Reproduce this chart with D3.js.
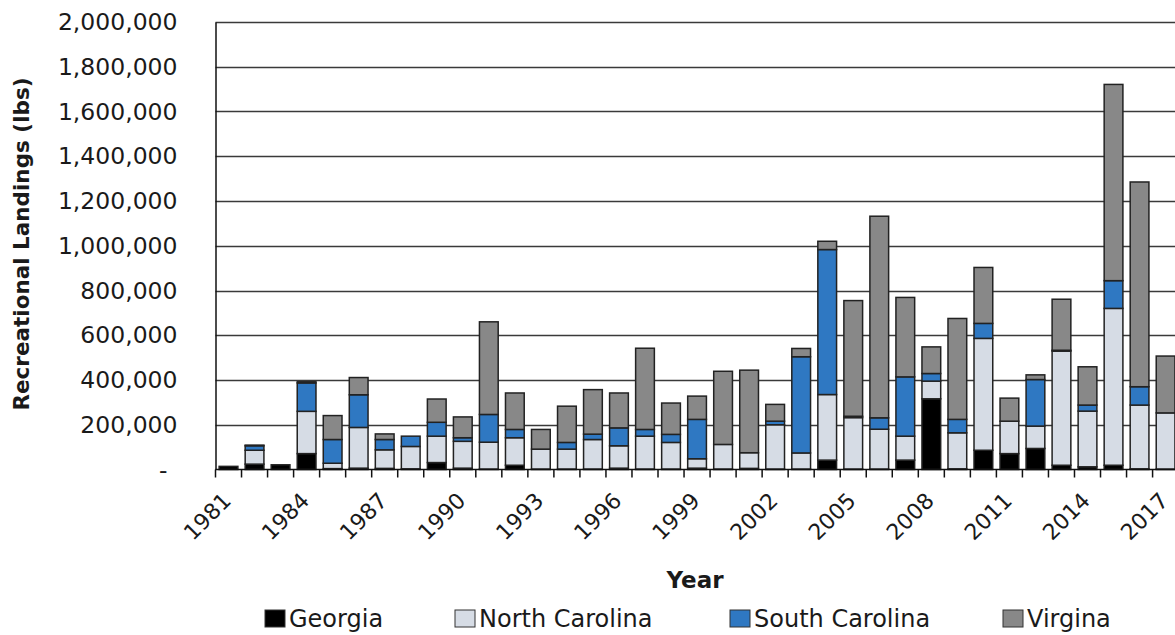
<!DOCTYPE html>
<html>
<head>
<meta charset="utf-8">
<script src="https://cdn.jsdelivr.net/npm/d3@7"></script>
<style>
  html, body { margin: 0; padding: 0; background: #fff; }
  svg { display: block; }
  text { font-family: "DejaVu Sans", sans-serif; fill: #1a1a1a; }
</style>
</head>
<body>
<svg id="chart" width="1175" height="635"></svg>
<script>
// ---- Data (lbs) ----
const years = d3.range(1981, 2018);
const seriesNames = ["Georgia", "North Carolina", "South Carolina", "Virgina"];
const georgia = [14000, 24000, 21000, 71000, 4000, 6000, 5000, 3000, 31000, 6000,
  2000, 19000, 2000, 2000, 2000, 6000, 2000, 2000, 6000, 2000,
  5000, 2000, 2000, 42000, 2000, 2000, 42000, 316000, 3000, 86000,
  71000, 94000, 19000, 12000, 19000, 3000, 2000];
const northCarolina = [0, 62000, 0, 189000, 24000, 182000, 83000, 100000, 118000, 120000,
  120000, 123000, 89000, 89000, 132000, 100000, 147000, 119000, 42000, 110000,
  70000, 198000, 72000, 293000, 230000, 178000, 107000, 79000, 161000, 500000,
  145000, 100000, 510000, 249000, 701000, 285000, 251000];
const southCarolina = [0, 20000, 0, 127000, 106000, 146000, 46000, 46000, 62000, 16000,
  124000, 37000, 0, 30000, 24000, 80000, 30000, 36000, 176000, 0,
  0, 16000, 430000, 648000, 6000, 51000, 265000, 34000, 60000, 67000,
  0, 208000, 4000, 27000, 124000, 82000, 0];
const virginia = [0, 3000, 0, 5000, 107000, 77000, 25000, 0, 104000, 93000,
  414000, 163000, 88000, 162000, 199000, 156000, 363000, 140000, 104000, 327000,
  369000, 75000, 37000, 37000, 517000, 901000, 355000, 119000, 451000, 250000,
  103000, 21000, 228000, 171000, 877000, 915000, 254000];
const yTicks = d3.range(0, 2000001, 200000);
const xLabelYears = d3.range(1981, 2018, 3);
const colors = ["#000000", "#d6dce5", "#2f78c2", "#888888"];

// ---- Build table ----
const table = years.map((yr, i) => ({
  year: yr,
  "Georgia": georgia[i],
  "North Carolina": northCarolina[i],
  "South Carolina": southCarolina[i],
  "Virgina": virginia[i]
}));
const stacked = d3.stack().keys(seriesNames)(table);

// ---- Layout ----
const svg = d3.select("#chart");
const plotLeft = 215.5, plotBottom = 469.5, plotTop = 22;
const stepW = 26.03;
const pad = 0.28;
const x = d3.scaleBand()
  .domain(years)
  .range([plotLeft, plotLeft + stepW * years.length])
  .paddingInner(pad)
  .paddingOuter(pad / 2);
const y = d3.scaleLinear().domain([0, 2000000]).range([plotBottom, plotTop]);
const color = d3.scaleOrdinal().domain(seriesNames).range(colors);

svg.append("rect").attr("width", 1175).attr("height", 635).attr("fill", "#fff");

// gridlines
svg.append("g")
  .selectAll("line")
  .data(yTicks.filter(d => d > 0))
  .join("line")
  .attr("x1", plotLeft).attr("x2", 1175)
  .attr("y1", d => Math.round(y(d)) + 0.5)
  .attr("y2", d => Math.round(y(d)) + 0.5)
  .attr("stroke", "#3a3a3a")
  .attr("stroke-width", 1.4);

// bars
svg.append("g")
  .selectAll("g")
  .data(stacked)
  .join("g")
  .attr("fill", d => color(d.key))
  .selectAll("rect")
  .data(d => d.filter(s => s[1] - s[0] > 0))
  .join("rect")
  .attr("x", d => x(d.data.year))
  .attr("width", x.bandwidth())
  .attr("y", d => y(d[1]))
  .attr("height", d => y(d[0]) - y(d[1]))
  .attr("stroke", "#222")
  .attr("stroke-width", 1.5);

// y axis
const yAxis = svg.append("g")
  .attr("transform", `translate(${plotLeft},0)`)
  .call(d3.axisLeft(y).tickValues(yTicks)
    .tickFormat(d => d === 0 ? "-" : d3.format(",")(d))
    .tickSize(0).tickPadding(38));
yAxis.select(".domain").attr("stroke", "#111").attr("stroke-width", 1.5);
yAxis.selectAll("text")
  .style("font-size", "23.5px")
  .attr("fill", "#262626")
  .attr("x", d => d === 0 ? -48 : -38);

// x axis line & ticks at category boundaries
const boundaries = d3.range(years.length + 1).map(i => plotLeft + i * stepW);
svg.append("line")
  .attr("x1", plotLeft).attr("x2", 1175)
  .attr("y1", plotBottom).attr("y2", plotBottom)
  .attr("stroke", "#111").attr("stroke-width", 1.5);
svg.append("g").selectAll("line")
  .data(boundaries)
  .join("line")
  .attr("x1", d => d).attr("x2", d => d)
  .attr("y1", plotBottom).attr("y2", plotBottom + 8)
  .attr("stroke", "#111").attr("stroke-width", 1.5);

// x labels
svg.append("g").selectAll("text")
  .data(xLabelYears)
  .join("text")
  .attr("text-anchor", "end")
  .attr("transform", d => `translate(${x(d) + x.bandwidth() / 2 + 4},502) rotate(-45)`)
  .style("font-size", "22px")
  .attr("fill", "#262626")
  .text(d => d);

// axis titles
svg.append("text")
  .attr("x", 695).attr("y", 588)
  .attr("text-anchor", "middle")
  .style("font-size", "23px").style("font-weight", "bold")
  .text("Year");
svg.append("text")
  .attr("transform", "translate(29,244) rotate(-90)")
  .attr("text-anchor", "middle")
  .style("font-size", "21.5px").style("font-weight", "bold")
  .text("Recreational Landings (lbs)");

// legend
const legendX = [265, 455, 730, 1003];
const lg = svg.append("g").selectAll("g")
  .data(seriesNames)
  .join("g")
  .attr("transform", (d, i) => `translate(${legendX[i]},610)`);
lg.append("rect")
  .attr("width", 20).attr("height", 17)
  .attr("fill", d => color(d))
  .attr("stroke", "#333").attr("stroke-width", 1);
lg.append("text")
  .attr("x", 24).attr("y", 17)
  .style("font-size", "24px")
  .attr("fill", "#262626")
  .text(d => d);
</script>
</body>
</html>
